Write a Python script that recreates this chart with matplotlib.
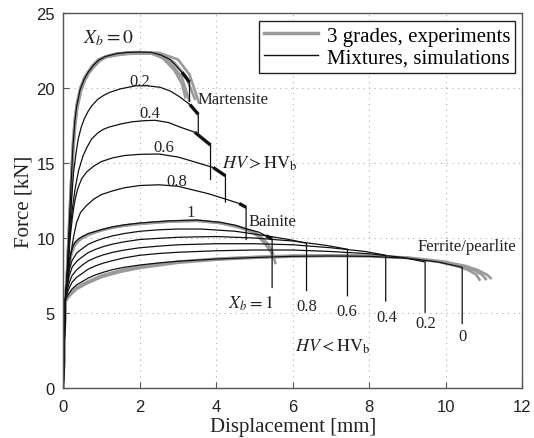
import matplotlib
matplotlib.use("Agg")
import matplotlib.pyplot as plt
from matplotlib.lines import Line2D

plt.rcParams['mathtext.fontset'] = 'stix'
serif = 'Liberation Serif'
sans = 'Liberation Sans'

# simulations, upper group (HV > HV_b), X_b = 0 ... 0.8  (x in mm, F in kN)
sim_hi_x = {
    '0':   [0, 0.05, 0.1, 0.15, 0.2, 0.25, 0.3, 0.35, 0.44, 0.55, 0.65, 0.78, 0.92, 1.1, 1.4, 1.7, 2.0,
            2.3, 2.55, 2.8, 3.1, 3.3, 3.3],
    '0.2': [0, 0.05, 0.1, 0.14, 0.18, 0.22, 0.27, 0.33, 0.39, 0.47, 0.55, 0.65, 0.74, 0.9, 1.05, 1.2,
            1.5, 1.9, 2.2, 2.53, 2.8, 3.05, 3.31, 3.53, 3.53],
    '0.4': [0, 0.05, 0.1, 0.14, 0.18, 0.24, 0.31, 0.4, 0.52, 0.63, 0.74, 0.9, 1.05, 1.2, 1.5, 1.8,
            2.1, 2.4, 2.75, 3.05, 3.44, 3.85, 3.85],
    '0.6': [0, 0.05, 0.1, 0.14, 0.18, 0.23, 0.28, 0.33, 0.38, 0.48, 0.61, 0.8, 1.0, 1.3, 1.6, 2.0,
            2.5, 3.0, 3.4, 3.92, 4.24, 4.24],
    '0.8': [0, 0.05, 0.1, 0.15, 0.2, 0.27, 0.35, 0.45, 0.6, 0.8, 1.0, 1.3, 1.6, 2.0, 2.5, 3.0,
            3.4, 3.8, 4.3, 4.6, 4.78, 4.78],
}
sim_hi_f = {
    '0':   [0, 5.6, 7.7, 10.6, 13.4, 16.0, 17.7, 18.8, 19.9, 20.6, 21.05, 21.5, 21.85, 22.1, 22.3, 22.38, 22.4,
            22.38, 22.2, 21.9, 21.05, 20.4, 19.1],
    '0.2': [0, 5.6, 7.5, 9.3, 11.0, 12.7, 14.4, 15.6, 16.6, 17.4, 17.95, 18.45, 18.8, 19.25, 19.5, 19.7,
            19.95, 20.15, 20.15, 20.05, 19.8, 19.4, 18.9, 18.25, 17.05],
    '0.4': [0, 5.6, 7.3, 8.9, 10.5, 12.0, 13.3, 14.5, 15.5, 16.1, 16.6, 17.0, 17.25, 17.4, 17.6, 17.75,
            17.82, 17.85, 17.7, 17.4, 17.05, 16.2, 13.9],
    '0.6': [0, 5.6, 7.2, 8.6, 10.0, 11.2, 12.15, 12.8, 13.3, 13.95, 14.4, 14.8, 15.1, 15.35, 15.5, 15.58,
            15.6, 15.4, 15.1, 14.7, 14.15, 12.4],
    '0.8': [0, 5.6, 7.0, 8.0, 9.0, 10.1, 11.05, 11.7, 12.15, 12.6, 12.9, 13.15, 13.35, 13.5, 13.55, 13.45,
            13.2, 12.95, 12.55, 12.3, 12.05, 9.9],
}

# bainite, X_b = 1 (shared by both groups)
bai_x = [0, 0.05, 0.1, 0.14, 0.18, 0.24, 0.3, 0.4, 0.5, 0.65, 0.85, 1.05, 1.3, 1.6, 2.0, 2.4, 2.8,
         3.5, 4.1, 4.5, 4.8, 5.1, 5.3, 5.46, 5.46]
bai_f = [0, 5.8, 7.4, 8.2, 8.8, 9.35, 9.7, 9.95, 10.1, 10.3, 10.45, 10.6, 10.75, 10.88, 11.0, 11.08, 11.15,
         11.2, 11.05, 10.85, 10.6, 10.4, 10.15, 9.95, 6.7]

# simulations, lower group (HV < HV_b), X_b = 0.8 ... 0
lo_x0 = [0, 0.05, 0.1, 0.16, 0.23, 0.35, 0.5, 0.65, 0.85, 1.05, 1.3, 1.6, 2.0, 2.5, 3.0]
sim_lo_x = {
    '0.8': lo_x0 + [3.6, 4.5, 5.3, 5.9, 6.36, 6.36],
    '0.6': lo_x0 + [4.0, 5.0, 6.0, 6.9, 7.43, 7.43],
    '0.4': lo_x0 + [4.0, 5.0, 6.0, 7.0, 7.9, 8.43, 8.43],
    '0.2': lo_x0 + [4.0, 5.0, 6.0, 7.0, 8.0, 8.9, 9.46, 9.46],
    '0':   lo_x0 + [4.0, 5.0, 6.0, 7.0, 8.0, 9.0, 9.8, 10.43, 10.43],
}
sim_lo_f = {
    '0.8': [0, 5.9, 7.0, 7.9, 8.5, 9.0, 9.3, 9.58, 9.8, 9.98, 10.15, 10.3, 10.45, 10.55, 10.6,
            10.6, 10.45, 10.15, 9.9, 9.65, 6.5],
    '0.6': [0, 5.9, 6.75, 7.5, 8.05, 8.45, 8.75, 9.02, 9.25, 9.43, 9.6, 9.75, 9.9, 9.98, 10.05,
            10.1, 10.0, 9.8, 9.5, 9.25, 6.15],
    '0.4': [0, 5.9, 6.5, 7.05, 7.5, 7.88, 8.2, 8.47, 8.7, 8.88, 9.05, 9.2, 9.35, 9.46, 9.55,
            9.62, 9.62, 9.55, 9.35, 9.1, 8.85, 5.8],
    '0.2': [0, 5.9, 6.3, 6.7, 7.05, 7.38, 7.65, 7.92, 8.15, 8.33, 8.5, 8.68, 8.85, 8.97, 9.05,
            9.15, 9.2, 9.2, 9.1, 8.95, 8.7, 8.4, 5.05],
    '0':   [0, 5.9, 6.1, 6.35, 6.6, 6.88, 7.1, 7.33, 7.55, 7.72, 7.9, 8.05, 8.2, 8.34, 8.45,
            8.6, 8.7, 8.78, 8.8, 8.78, 8.65, 8.4, 8.05, 4.3],
}

# experiments (3 grades, repeated tests)
exp_mar_x = [
    [0, 0.05, 0.1, 0.15, 0.2, 0.25, 0.3, 0.35, 0.44, 0.55, 0.65, 0.78, 0.92, 1.1, 1.4, 1.7, 2.0, 2.3, 2.6, 2.9, 3.1, 3.2],
    [0, 0.05, 0.1, 0.15, 0.2, 0.26, 0.31, 0.36, 0.46, 0.56, 0.66, 0.8, 0.95, 1.1, 1.4, 1.7, 2.0, 2.4, 2.8, 3.1, 3.3],
    [0, 0.05, 0.1, 0.15, 0.2, 0.25, 0.3, 0.35, 0.45, 0.55, 0.65, 0.78, 0.92, 1.1, 1.4, 1.7, 2.0, 2.5, 2.9, 3.2, 3.45],
    [0, 0.05, 0.1, 0.15, 0.21, 0.26, 0.31, 0.36, 0.46, 0.56, 0.66, 0.8, 0.95, 1.1, 1.4, 1.7, 2.0, 2.5, 3.0, 3.3, 3.55],
]
exp_mar_f = [
    [0, 5.6, 7.8, 10.8, 13.6, 16.2, 17.9, 18.9, 20.0, 20.7, 21.1, 21.55, 21.9, 22.1, 22.28, 22.35, 22.35, 22.3, 22.0, 21.2, 20.3, 19.3],
    [0, 5.6, 7.6, 10.4, 13.2, 15.9, 17.6, 18.7, 19.8, 20.5, 21.0, 21.45, 21.85, 22.05, 22.2, 22.28, 22.3, 22.3, 21.7, 20.7, 19.1],
    [0, 5.6, 7.7, 10.6, 13.4, 16.1, 17.8, 18.8, 19.9, 20.6, 21.0, 21.5, 21.9, 22.1, 22.3, 22.38, 22.4, 22.3, 21.7, 20.8, 19.2],
    [0, 5.6, 7.5, 10.3, 13.1, 15.8, 17.5, 18.6, 19.8, 20.5, 20.95, 21.4, 21.8, 22.05, 22.2, 22.3, 22.35, 22.35, 21.9, 20.9, 19.0],
]
exp_bai_x = [
    [0, 0.05, 0.1, 0.14, 0.18, 0.24, 0.3, 0.4, 0.5, 0.65, 0.85, 1.05, 1.3, 1.6, 2.0, 2.8, 3.5, 4.1, 4.6,
     5.0, 5.2, 5.35, 5.48, 5.55],
    [0, 0.05, 0.1, 0.14, 0.18, 0.24, 0.3, 0.4, 0.5, 0.65, 0.85, 1.05, 1.3, 1.6, 2.0, 2.8, 3.5, 4.1, 4.6,
     4.9, 5.1, 5.28, 5.42, 5.5],
]
exp_bai_f = [
    [0, 5.7, 7.2, 8.0, 8.6, 9.15, 9.5, 9.8, 10.0, 10.2, 10.4, 10.55, 10.7, 10.83, 10.95, 11.1, 11.15, 11.0, 10.75,
     10.4, 10.0, 9.6, 9.0, 8.25],
    [0, 5.7, 7.3, 8.1, 8.7, 9.25, 9.6, 9.85, 10.05, 10.22, 10.4, 10.55, 10.7, 10.83, 10.95, 11.1, 11.15, 11.0, 10.7,
     10.45, 10.1, 9.6, 9.1, 8.6],
]
exp_fp_x = [
    [0, 0.05, 0.1, 0.2, 0.35, 0.6, 1.0, 1.5, 2.0, 3.0, 4.0, 5.0, 6.0, 7.0, 8.0, 9.0, 9.8, 10.3, 10.6, 10.8, 10.9],
    [0, 0.05, 0.1, 0.2, 0.35, 0.6, 1.0, 1.5, 2.0, 3.0, 4.0, 5.0, 6.0, 7.0, 8.0, 9.0, 9.8, 10.4, 10.75, 10.95, 11.07],
    [0, 0.05, 0.1, 0.2, 0.35, 0.6, 1.0, 1.5, 2.0, 3.0, 4.0, 5.0, 6.0, 7.0, 8.0, 9.0, 9.9, 10.5, 10.85, 11.08, 11.2],
]
exp_fp_f = [
    [0, 5.7, 5.95, 6.25, 6.6, 6.95, 7.4, 7.75, 8.0, 8.35, 8.55, 8.68, 8.76, 8.8, 8.78, 8.66, 8.42, 8.12, 7.85, 7.55, 7.15],
    [0, 5.7, 5.95, 6.3, 6.65, 7.0, 7.45, 7.8, 8.05, 8.4, 8.6, 8.72, 8.8, 8.83, 8.8, 8.68, 8.45, 8.15, 7.85, 7.55, 7.2],
    [0, 5.7, 6.0, 6.35, 6.7, 7.05, 7.5, 7.85, 8.1, 8.43, 8.62, 8.74, 8.82, 8.85, 8.82, 8.7, 8.45, 8.15, 7.85, 7.55, 7.27],
]

fig = plt.figure(figsize=(5.34, 4.39), dpi=100)
ax = fig.add_axes([0.1185, 0.1139, 0.8595, 0.8541])

exp_col = '#9a9a9a'
for xs, fs in zip(exp_mar_x + exp_bai_x + exp_fp_x, exp_mar_f + exp_bai_f + exp_fp_f):
    ax.plot(xs, fs, color=exp_col, lw=1.9, solid_capstyle='butt', solid_joinstyle='round')

sim_col = '#111111'
for k in sim_hi_x:
    xs, fs = sim_hi_x[k], sim_hi_f[k]
    ax.plot(xs, fs, color=sim_col, lw=0.9)
    # steep softening before failure drawn heavier
    ax.plot(xs[-3:-1], fs[-3:-1], color=sim_col, lw=2.4, solid_capstyle='butt')
ax.plot(bai_x, bai_f, color=sim_col, lw=0.9)
ax.plot(bai_x[-3:-1], bai_f[-3:-1], color=sim_col, lw=2.4, solid_capstyle='butt')
for k in sim_lo_x:
    ax.plot(sim_lo_x[k], sim_lo_f[k], color=sim_col, lw=0.9)

# labels on the curves
tc = '#222222'
txt = dict(family=serif, fontsize=12, color=tc, ha='center', va='center')
ax.text(1.17, 23.4, r'$X_b = 0$', ha='center', va='center', fontsize=14, color=tc)
ax.text(2.0, 20.47, '0.2', **txt)
ax.text(2.27, 18.33, '0.4', **txt)
ax.text(2.63, 16.07, '0.6', **txt)
ax.text(2.97, 13.8, '0.8', **txt)
ax.text(3.34, 11.73, '1', **txt)
ax.text(3.52, 19.27, 'Martensite', family=serif, fontsize=12, color=tc, ha='left', va='center')
ax.text(4.15, 15.0, r'$HV > \mathrm{HV}_\mathrm{b}$', ha='left', va='center', fontsize=13, color=tc)
ax.text(4.83, 11.13, 'Bainite', family=serif, fontsize=12, color=tc, ha='left', va='center')
ax.text(9.27, 9.47, 'Ferrite/pearlite', family=serif, fontsize=12, color=tc, ha='left', va='center')
ax.text(4.91, 5.67, r'$X_b = 1$', ha='center', va='center', fontsize=13, color=tc)
ax.text(6.37, 5.47, '0.8', **txt)
ax.text(7.42, 5.13, '0.6', **txt)
ax.text(8.46, 4.73, '0.4', **txt)
ax.text(9.48, 4.33, '0.2', **txt)
ax.text(10.45, 3.47, '0', **txt)
ax.text(7.05, 2.8, r'$HV < \mathrm{HV}_\mathrm{b}$', ha='center', va='center', fontsize=13, color=tc)

ax.set_xlim(0, 12)
ax.set_ylim(0, 25)
ax.set_xticks([0, 2, 4, 6, 8, 10, 12])
ax.set_yticks([0, 5, 10, 15, 20, 25])
ax.grid(True, linestyle=(0, (1, 4)), color='#aaaaaa', lw=0.8)
ax.tick_params(direction='in', length=4, color='#555555', labelsize=12)
ax.tick_params(axis='x', pad=8)
ax.tick_params(axis='y', pad=6)
for lab in ax.get_xticklabels() + ax.get_yticklabels():
    lab.set_family(sans)
    lab.set_color(tc)
for sp in ax.spines.values():
    sp.set_color('#555555')
    sp.set_linewidth(1.0)

ax.set_xlabel('Displacement [mm]', family=serif, fontsize=15, labelpad=2, color=tc)
ax.set_ylabel('Force [kN]', family=serif, fontsize=15, labelpad=2, color=tc)

handles = [Line2D([], [], color=exp_col, lw=2.5), Line2D([], [], color=sim_col, lw=1.0)]
leg = ax.legend(handles, ['3 grades, experiments', 'Mixtures, simulations'],
                loc='upper right', bbox_to_anchor=(0.985, 0.979), borderaxespad=0,
                prop={'family': serif, 'size': 15}, fancybox=False, framealpha=1,
                edgecolor='#222222', handlelength=2.6, borderpad=0.25, labelspacing=0.1,
                handletextpad=0.4)
leg.get_frame().set_linewidth(1.0)

fig.savefig('out.png', dpi=100)
